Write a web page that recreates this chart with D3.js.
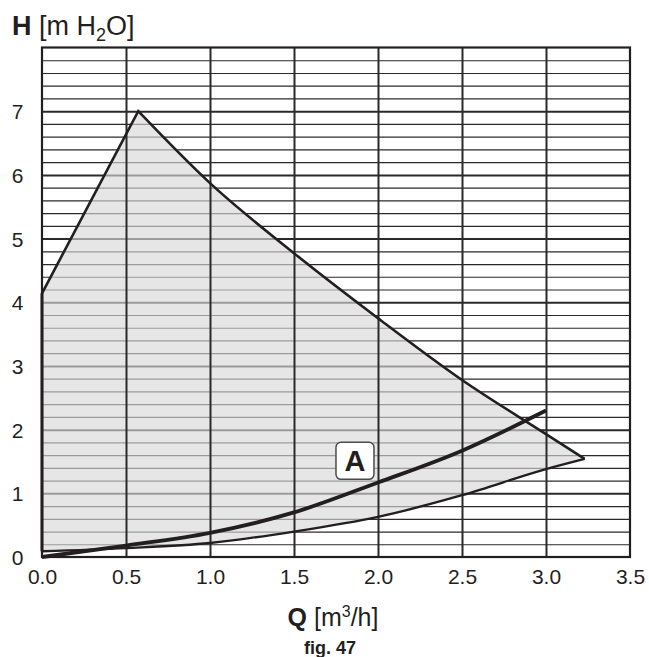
<!DOCTYPE html>
<html>
<head>
    <title>pump curve</title>
    <script type="text/javascript" src="https://cdn.jsdelivr.net/npm/d3@7/dist/d3.min.js"></script>
    <style type="text/css">
        body { margin: 0; background: #fff; }
        svg { display: block; font-family: "Liberation Sans", Arial, sans-serif; }
        .grid line { stroke: #2b2a2a; }
        .grid path { display: none; }
        .ticks path, .ticks line { display: none; }
        .ticks text { fill: #231f20; font-size: 21px; }
    </style>
</head>
<body>
    <svg id="chart" width="649" height="657"></svg>
</body>

<script type="text/javascript">

    // axis ticks
    let qTicks = [0, 0.5, 1.0, 1.5, 2.0, 2.5, 3.0, 3.5];
    let hTicks = [0, 1, 2, 3, 4, 5, 6, 7];

    // max speed curve (rises to the peak, then falls)
    let maxQ = [0, 0.573, 1.0, 1.5, 2.0, 2.5, 3.0, 3.23];
    let maxH = [4.14, 7.0, 5.87, 4.77, 3.75, 2.78, 1.93, 1.54];

    // min speed curve
    let minQ = [0, 0.5, 1.0, 1.5, 2.0, 2.5, 3.0, 3.23];
    let minH = [0.09, 0.14, 0.22, 0.40, 0.63, 0.97, 1.38, 1.54];

    // system curve "A"
    let sysQ = [0, 0.5, 1.0, 1.5, 2.0, 2.5, 3.0];
    let sysH = [0, 0.18, 0.38, 0.70, 1.17, 1.67, 2.30];
    let sysLabel = "A";
    let sysLabelAt = [1.863, 1.51];

    let svg = d3.select("#chart");
    let x = d3.scaleLinear().domain([0, 3.5]).range([42, 630]);
    let y = d3.scaleLinear().domain([0, 8]).range([557, 47.5]);

    // horizontal grid every 0.2, integers heavier
    let hGrid = d3.range(1, 40).map(function(i) { return i / 5; });
    svg.append("g")
        .attr("class", "grid")
        .attr("transform", "translate(42,0)")
        .call(d3.axisLeft(y).tickValues(hGrid).tickSize(-588).tickFormat(""))
        .selectAll("line")
        .attr("stroke-width", function(d) { return Math.abs(d - Math.round(d)) < 1e-6 ? 2 : 1.2; })
        .attr("stroke", function(d) { return Math.abs(d - Math.round(d)) < 1e-6 ? "#231f20" : "#444"; });

    // fill between curves
    let pts = function(qs, hs) { return qs.map(function(q, i) { return [x(q), y(hs[i])]; }); };
    let maxPts = pts(maxQ, maxH);
    let minPts = pts(minQ, minH);
    let lin = d3.line();
    let mono = d3.line().curve(d3.curveMonotoneX);
    let strip = function(d) { return d.replace(/^M[^CL]*/, ""); };

    let fillD = "M" + minPts[0].join(",") + "L" + maxPts[0].join(",") + "L" + maxPts[1].join(",")
        + strip(mono(maxPts.slice(1)))
        + strip(mono(minPts.slice().reverse())) + "Z";

    svg.append("path")
        .attr("d", fillD)
        .attr("fill", "#d8d8da")
        .attr("fill-opacity", 0.65)
        .attr("stroke", "none");

    // vertical grid
    svg.append("g")
        .attr("class", "grid")
        .attr("transform", "translate(0,557)")
        .call(d3.axisBottom(x).tickValues([0.5, 1.0, 1.5, 2.0, 2.5, 3.0]).tickSize(-509.5).tickFormat(""))
        .selectAll("line")
        .attr("stroke-width", 2)
        .attr("stroke", "#231f20");

    // frame
    svg.append("rect")
        .attr("x", x(0)).attr("y", y(8))
        .attr("width", x(3.5) - x(0)).attr("height", y(0) - y(8))
        .attr("fill", "none").attr("stroke", "#231f20").attr("stroke-width", 2.2);

    // curves
    svg.append("path")
        .attr("d", lin(maxPts.slice(0, 2)) + strip(mono(maxPts.slice(1))))
        .attr("fill", "none").attr("stroke", "#231f20").attr("stroke-width", 2.6)
        .attr("stroke-linejoin", "miter");

    svg.append("path")
        .attr("d", mono(minPts))
        .attr("fill", "none").attr("stroke", "#231f20").attr("stroke-width", 2.3);

    svg.append("path")
        .attr("d", mono(pts(sysQ, sysH)))
        .attr("fill", "none").attr("stroke", "#231f20").attr("stroke-width", 3.8);

    // left vertical edge of the shaded region
    svg.append("path")
        .attr("d", lin([minPts[0], maxPts[0]]))
        .attr("stroke", "#231f20").attr("stroke-width", 3);

    // label A
    let lx = x(sysLabelAt[0]), ly = y(sysLabelAt[1]);
    svg.append("rect")
        .attr("x", lx - 19).attr("y", ly - 18.5)
        .attr("width", 38).attr("height", 37).attr("rx", 5)
        .attr("fill", "#fff").attr("stroke", "#4a4a4a").attr("stroke-width", 1.5);
    svg.append("text")
        .attr("x", lx).attr("y", ly + 10.5)
        .attr("text-anchor", "middle")
        .attr("font-size", 29).attr("font-weight", "bold").attr("fill", "#231f20")
        .text(sysLabel);

    // tick labels
    svg.append("g")
        .attr("class", "ticks")
        .attr("transform", "translate(23.5,0)")
        .call(d3.axisLeft(y).tickValues(hTicks).tickSize(0).tickPadding(0).tickFormat(d3.format("d")))
        .selectAll("text").attr("dy", "0.36em");

    svg.append("g")
        .attr("class", "ticks")
        .attr("transform", "translate(0,566)")
        .call(d3.axisBottom(x).tickValues(qTicks).tickSize(0).tickPadding(0).tickFormat(d3.format(".1f")))
        .selectAll("text").attr("dy", "0.85em");

    // axis titles
    let ht = svg.append("text").attr("x", 12).attr("y", 35).attr("font-size", 27).attr("fill", "#231f20");
    ht.append("tspan").attr("font-weight", "bold").text("H");
    ht.append("tspan").text(" [m H");
    ht.append("tspan").attr("font-size", 18).attr("dy", 6).text("2");
    ht.append("tspan").attr("dy", -6).text("O]");

    let qt = svg.append("text").attr("x", 333).attr("y", 626).attr("text-anchor", "middle")
        .attr("font-size", 25).attr("fill", "#231f20");
    qt.append("tspan").attr("font-weight", "bold").text("Q");
    qt.append("tspan").text(" [m");
    qt.append("tspan").attr("font-size", 16).attr("dy", -9).text("3");
    qt.append("tspan").attr("dy", 9).text("/h]");

    svg.append("text").attr("x", 330).attr("y", 654).attr("text-anchor", "middle")
        .attr("font-size", 18).attr("font-weight", "bold").attr("fill", "#231f20")
        .text("fig. 47");
</script>

</html>
